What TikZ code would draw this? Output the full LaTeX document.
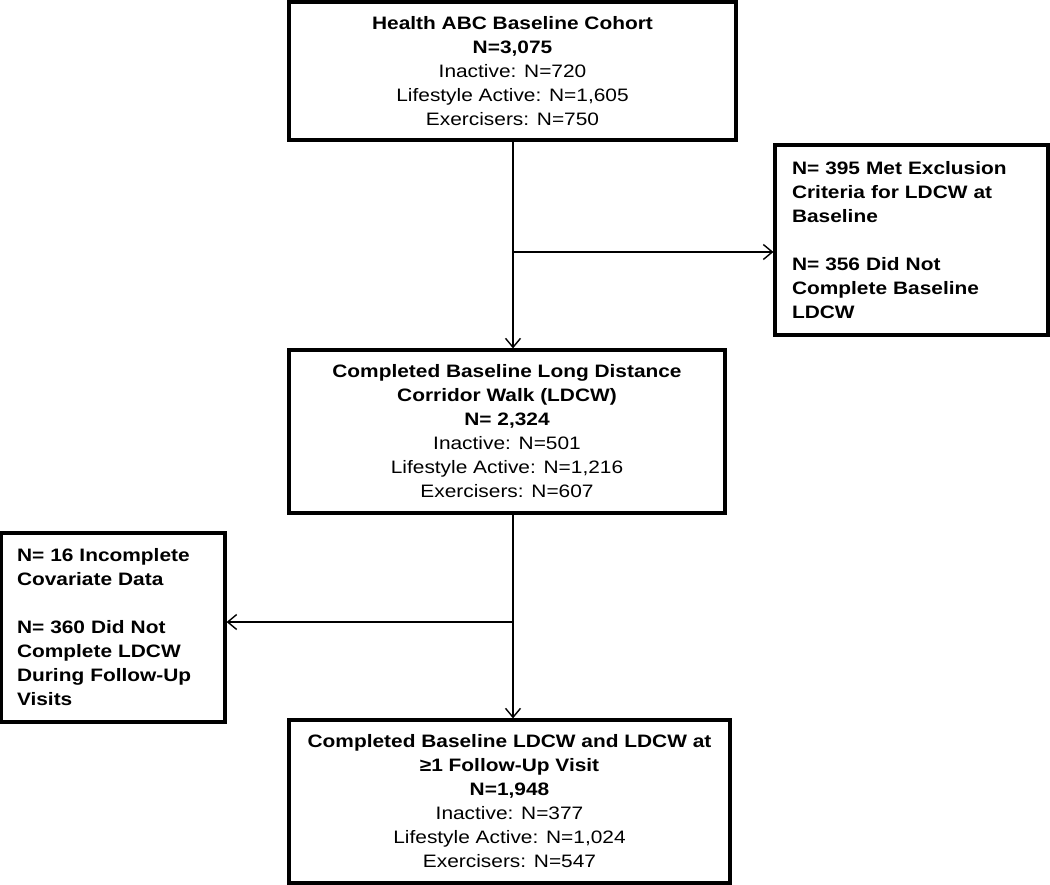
\documentclass[tikz,border=0pt]{standalone}
\usepackage{fontspec}
\setmainfont{Liberation Sans}[FakeStretch=1.16]
\usetikzlibrary{arrows.meta}
\begin{document}
\begin{tikzpicture}[x=1pt,y=-1pt,
  box/.style={draw=black,line width=3.2pt,inner sep=0pt,font=\fontsize{18}{24}\selectfont,align=center},
  sidebox/.style={draw=black,line width=3.2pt,inner ysep=0pt,font=\fontsize{18}{24}\selectfont\bfseries,align=left},
  conn/.style={draw=black,line width=1.4pt,-{Straight Barb[length=9pt,width=15pt,line width=1.4pt]}},
  line/.style={draw=black,line width=1.4pt}]
\useasboundingbox (0,0) rectangle (1050,885);
\fill[white] (0,0) rectangle (1050,885);
\node[box,minimum width=447pt,minimum height=138pt] (b1) at (512.5,71)
 {\textbf{Health ABC Baseline Cohort}\\\textbf{N=3,075}\\Inactive: N=720\\Lifestyle Active: N=1,605\\Exercisers: N=750};
\node[box,minimum width=436pt,minimum height=163pt] (b2) at (507,431.5)
 {\textbf{Completed Baseline Long Distance}\\\textbf{Corridor Walk (LDCW)}\\\textbf{N= 2,324}\\Inactive: N=501\\Lifestyle Active: N=1,216\\Exercisers: N=607};
\node[sidebox,inner xsep=17pt,text width=239pt,minimum height=190pt] (b3) at (911.5,240)
 {N= 395 Met Exclusion\\Criteria for LDCW at\\Baseline\\[24pt]N= 356 Did Not\\Complete Baseline\\LDCW};
\node[sidebox,inner xsep=16pt,text width=192pt,minimum height=189pt] (b4) at (113,627.5)
 {N= 16 Incomplete\\Covariate Data\\[24pt]N= 360 Did Not\\Complete LDCW\\During Follow-Up\\Visits};
\node[box,minimum width=441pt,minimum height=163pt] (b5) at (509.5,801.5)
 {\textbf{Completed Baseline LDCW and LDCW at}\\\textbf{≥1 Follow-Up Visit}\\\textbf{N=1,948}\\Inactive: N=377\\Lifestyle Active: N=1,024\\Exercisers: N=547};
\coordinate (j1) at (513,252);
\coordinate (j2) at (513,622);
\draw[conn] (b1.south -| j1) -- (j1 |- b2.north);
\draw[conn] (j1) -- (j1 -| b3.west);
\draw[conn] (j1 |- b2.south) -- (j1 |- b5.north);
\draw[conn] (j2) -- (j2 -| b4.east);
\end{tikzpicture}
\end{document}
